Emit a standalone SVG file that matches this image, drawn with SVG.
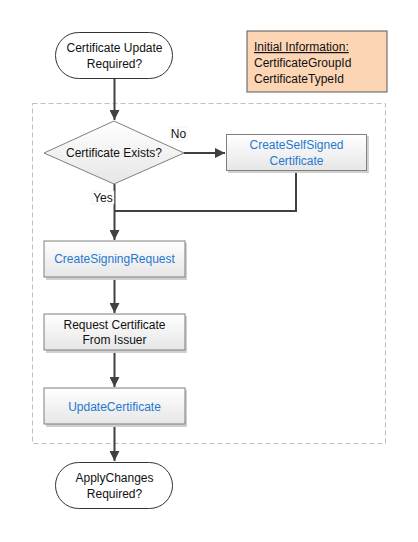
<svg xmlns="http://www.w3.org/2000/svg" width="418" height="542" viewBox="0 0 418 542">
<defs>
<linearGradient id="g" x1="0" y1="0" x2="0" y2="1">
<stop offset="0" stop-color="#ffffff"/>
<stop offset="1" stop-color="#e6e6e6"/>
</linearGradient>
<marker id="a" viewBox="0 0 10 10" refX="10" refY="5" markerWidth="5" markerHeight="5" orient="auto" markerUnits="strokeWidth">
<path d="M0,0 L10,5 L0,10 z" fill="#404040"/>
</marker>
<style>
text{font-family:"Liberation Sans",Arial,sans-serif;font-size:12px;fill:#111;text-anchor:middle}
.b{fill:#1f78d1}
.box{fill:url(#g);stroke:#7f7f7f;stroke-width:1}
.sh{fill:#d0d0d0}
.term{fill:#fff;stroke:#333;stroke-width:1}
.c{fill:none;stroke:#404040;stroke-width:2}
.lbl{fill:#fff;stroke:#e6e6e6;stroke-width:0.5}
</style>
</defs>
<rect width="418" height="542" fill="#fff"/>
<g id="container">
<rect x="32.5" y="103.5" width="353" height="340" fill="none" stroke="#bfbfbf" stroke-width="1" stroke-dasharray="5,3"/>
</g>
<g id="info">
<rect x="247" y="31" width="140" height="61" fill="#fcd5b5" stroke="#595959" stroke-width="1"/>
<text x="254" y="51" style="text-anchor:start" text-decoration="underline">Initial Information:</text>
<text x="254" y="67" style="text-anchor:start">CertificateGroupId</text>
<text x="254" y="83" style="text-anchor:start">CertificateTypeId</text>
</g>
<g id="connectors">
<path class="c" d="M114.5,79 V120" marker-end="url(#a)"/>
<path class="c" d="M184,153 H225" marker-end="url(#a)"/>
<path class="c" d="M296,171 V211 H114.5"/>
<path class="c" d="M114.5,184 V240" marker-end="url(#a)"/>
<path class="c" d="M114.5,277 V313" marker-end="url(#a)"/>
<path class="c" d="M114.5,350 V387" marker-end="url(#a)"/>
<path class="c" d="M114.5,424 V461" marker-end="url(#a)"/>
<rect class="lbl" x="170" y="127" width="17" height="13"/>
<text x="178.5" y="138">No</text>
<rect class="lbl" x="92" y="191" width="22" height="13"/>
<text x="103" y="202">Yes</text>
</g>
<g id="start">
<rect class="term" x="55.5" y="32.5" width="117" height="46" rx="23" ry="23"/>
<text x="114.5" y="52">Certificate Update</text>
<text x="114.5" y="68">Required?</text>
</g>
<g id="exists">
<polygon points="114,121 184,153 114,184 44,153" fill="url(#g)" stroke="#7f7f7f" stroke-width="1"/>
<text x="114" y="157">Certificate Exists?</text>
</g>
<g id="selfsigned">
<rect class="sh" x="228" y="136" width="141" height="37"/>
<rect class="box" x="226.5" y="134.5" width="140" height="36"/>
<text class="b" x="296.5" y="149">CreateSelfSigned</text>
<text class="b" x="296.5" y="165">Certificate</text>
</g>
<g id="csr">
<rect class="sh" x="46" y="243" width="141" height="37"/>
<rect class="box" x="44" y="241" width="141" height="36"/>
<text class="b" x="114.5" y="263">CreateSigningRequest</text>
</g>
<g id="request">
<rect class="sh" x="46" y="316" width="141" height="37"/>
<rect class="box" x="44" y="314" width="141" height="36"/>
<text x="114.5" y="329">Request Certificate</text>
<text x="114.5" y="344">From Issuer</text>
</g>
<g id="update">
<rect class="sh" x="46" y="390" width="141" height="37"/>
<rect class="box" x="44" y="388" width="141" height="36"/>
<text class="b" x="114.5" y="411">UpdateCertificate</text>
</g>
<g id="apply">
<rect class="term" x="55.5" y="462.5" width="117" height="46" rx="23" ry="23"/>
<text x="114.5" y="482">ApplyChanges</text>
<text x="114.5" y="498">Required?</text>
</g>
</svg>
